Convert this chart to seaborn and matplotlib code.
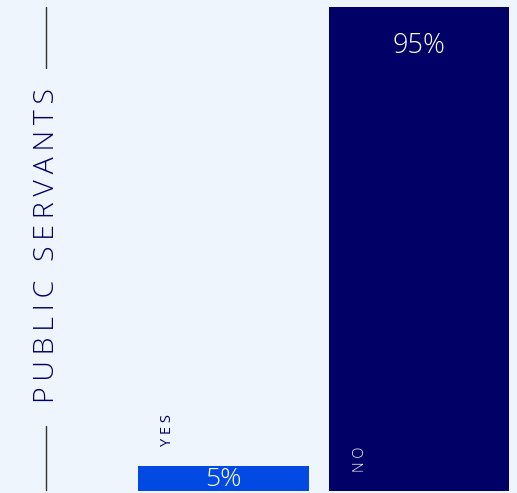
import matplotlib
matplotlib.use("Agg")
import matplotlib.pyplot as plt
import seaborn as sns
import pandas as pd

# Survey answers among public servants
answers = ["YES", "NO"]
shares = [5, 95]
value_labels = ["5%", "95%"]
group_title = "PUBLIC SERVANTS"

BG = "#EEF5FD"
NAVY = "#000066"
BLUE = "#0049E3"
bar_colors = [BLUE, NAVY]
bar_widths = [0.875, 0.92]

sns.set_theme(style="white")
plt.rcParams["font.family"] = ["Open Sans", "DejaVu Sans"]


def spaced(s, gap="\u2009"):
    return gap.join(s)


W, H = 517, 493
fig = plt.figure(figsize=(W / 100, H / 100), dpi=100, facecolor=BG)

# Axes placed in pixel terms: bars start on a common baseline near the bottom
ax_left, ax_right = 120, 517
ax_bottom, ax_top = 2, 486
ax = fig.add_axes([ax_left / W, ax_bottom / H, (ax_right - ax_left) / W, (ax_top - ax_bottom) / H])
ax.set_facecolor(BG)

df = pd.DataFrame({"answer": answers, "share": shares})
sns.barplot(data=df, x="answer", y="share", hue="answer", palette=bar_colors,
            legend=False, ax=ax, width=0.9, saturation=1, linewidth=0)

for patch, w in zip(ax.patches, bar_widths):
    cx = patch.get_x() + patch.get_width() / 2
    patch.set_width(w)
    patch.set_x(cx - w / 2)

ax.set_xlim(-0.529, 1.501)
ax.set_ylim(0, 95)
ax.axis("off")

# Value labels inside the bars
ax.text(0, shares[0] / 2 - 0.3, value_labels[0], color="white", ha="center", va="center",
        fontsize=19, fontweight="light")
ax.text(1, shares[1] - 7.6, value_labels[1], color="white", ha="center", va="center",
        fontsize=19.5, fontweight="light")

# Category labels, rotated
ax.text(-0.285, 11.9, spaced(answers[0], " "), color=NAVY, rotation=90, ha="center",
        va="center", fontsize=10.5)
ax.text(0.7, 6.3, spaced(answers[1], " "), color="white", rotation=90, ha="center",
        va="center", fontsize=10.5, fontweight="light")

# Group title with rules above and below
fig.text(47 / W, 1 - 246 / H, spaced(group_title), color=NAVY, rotation=90, ha="center",
         va="center", fontsize=20.5, fontweight="light")
line_color = "#333333"
fig.add_artist(plt.Line2D([46 / W, 46 / W], [1 - 7 / H, 1 - 68 / H], color=line_color, lw=1))
fig.add_artist(plt.Line2D([46 / W, 46 / W], [1 - 426 / H, 1 - 490 / H], color=line_color, lw=1))

fig.savefig("out.png", dpi=100, facecolor=BG)
